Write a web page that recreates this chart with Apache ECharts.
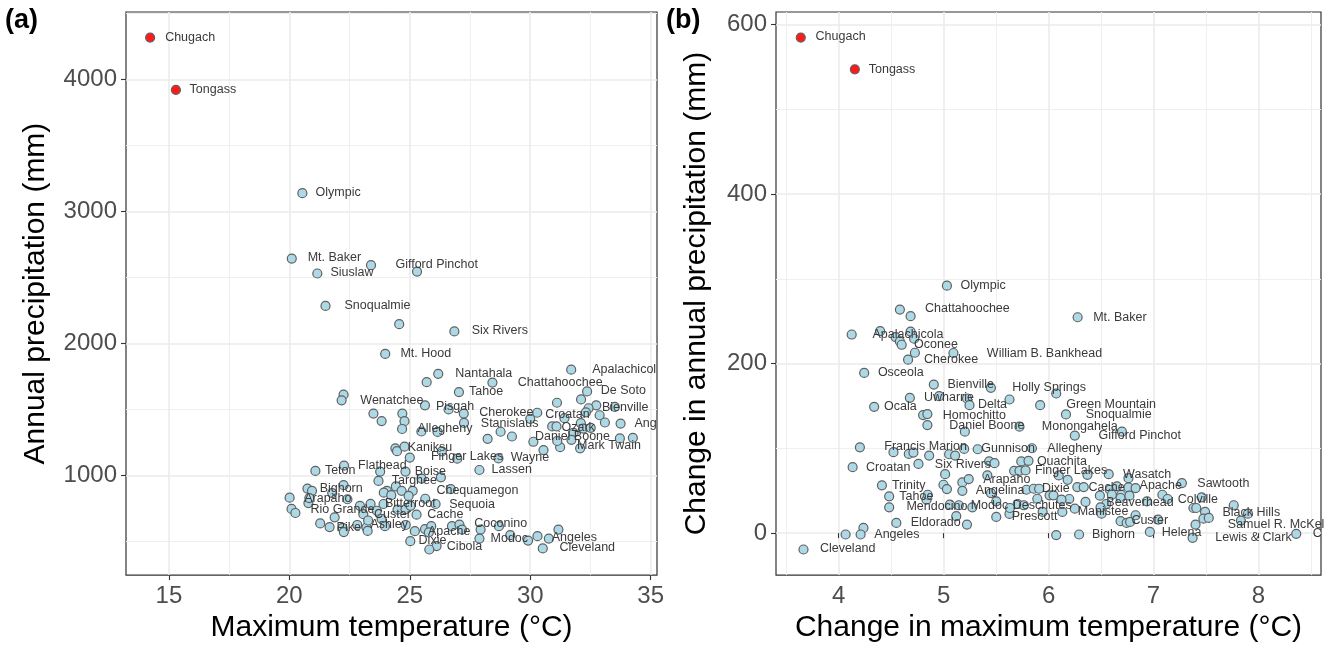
<!DOCTYPE html>
<html><head><meta charset="utf-8">
<script src="https://cdn.jsdelivr.net/npm/echarts@6/dist/echarts.min.js"></script>
<style>html,body{margin:0;padding:0;background:#fff}#c{width:1328px;height:648px}</style>
</head><body><div id="c"></div>
<script>
// ---------------- DATA ----------------
// Panel (a): maximum temperature (°C) vs annual precipitation (mm); '' = unlabelled forest
const aNames = ['Chugach','Tongass','Olympic','Mt. Baker','Gifford Pinchot','','Siuslaw','Snoqualmie','','Six Rivers',
'Mt. Hood','Nantahala','','Chattahoochee','Apalachicola','Tahoe','De Soto','','Wenatchee','',
'','Pisgah','','Cherokee','','Bienville','','','','',
'','','Stanislaus','Croatan','','Ozark','','','','',
'Angelina','','','','','Allegheny','','','','Daniel Boone',
'','','','Mark Twain','','','','','','Kaniksu',
'','','','Finger Lakes','','Wayne','Lassen','Flathead','Teton','',
'Boise','','','Targhee','','Bighorn','','','','',
'','Chequamegon','','','','','Arapaho','','','',
'','','Bitterroot','','Sequoia','','','','Rio Grande','',
'Custer','','','Cache','','Pike','','','','Ashley',
'','','','','','Apache','','','','',
'Coconino','','','','Dixie','Cibola','','Modoc','','',
'Angeles','','','Cleveland'];
const aTmax = [14.22,15.29,20.54,20.10,23.39,25.30,21.16,21.50,24.56,26.85,
23.98,26.18,25.70,28.43,31.70,27.04,32.36,22.25,22.17,32.11,
31.11,25.63,26.61,27.24,32.74,32.42,32.31,33.51,23.49,24.69,
23.83,24.78,27.25,30.29,30.00,30.91,31.09,31.42,32.88,33.10,
33.75,32.10,32.20,32.51,31.80,24.68,25.48,26.15,28.77,29.24,
28.23,30.13,30.55,31.24,31.12,31.71,32.07,33.72,34.26,24.40,
24.47,24.78,26.33,25.00,26.97,28.68,27.89,22.27,21.08,23.77,
24.82,25.49,26.29,23.70,22.25,20.75,20.94,26.70,24.05,24.42,
24.66,25.12,23.92,24.23,24.95,21.78,20.01,20.79,20.83,22.41,
25.64,22.93,23.37,23.91,26.07,24.49,24.82,25.03,20.09,20.25,
23.07,23.63,23.83,25.28,21.88,21.28,21.67,22.21,22.26,22.82,
23.20,23.25,23.27,23.97,24.83,25.21,25.63,25.89,25.79,26.75,
27.06,27.17,27.94,28.70,25.02,26.11,25.81,27.89,29.17,29.91,
30.30,30.77,31.17,30.52];
const aPrecip = [4319,3922,3139,2643,2593,2545,2530,2284,2146,2091,
1920,1769,1706,1703,1801,1631,1636,1611,1568,1575,
1550,1530,1499,1468,1530,1508,1477,1518,1468,1468,
1411,1410,1397,1474,1428,1370,1370,1433,1455,1400,
1392,1396,1354,1360,1321,1351,1332,1329,1330,1294,
1276,1254,1191,1213,1260,1269,1204,1279,1284,1204,
1183,1217,1181,1134,1126,1128,1040,1073,1033,1028,
1028,975,984,957,925,899,882,895,882,915,
882,882,868,849,843,865,830,789,827,818,
822,768,783,782,782,739,742,768,745,714,
705,731,669,701,681,635,607,601,569,623,
604,578,657,614,623,576,592,614,567,614,
626,588,588,614,500,463,437,520,546,505,
538,520,588,445];

// Panel (b): change in maximum temperature (°C) vs change in annual precipitation (mm)
const bNames = ['Chugach','Tongass','Olympic','Chattahoochee','','Mt. Baker','Apalachicola','','','',
'','Oconee','','','William B. Bankhead','Cherokee','Osceola','Bienville','Holly Springs','',
'Uwharrie','','','Delta','','Green Mountain','Ocala','Snoqualmie','','Homochitto',
'Daniel Boone','','Monongahela','Gifford Pinchot','','Francis Marion','','','','',
'Gunnison','','','','Allegheny','Croatan','Six Rivers','','','',
'','','Ouachita','','','Finger Lakes','','','','Wasatch',
'','Sawtooth','Trinity','','','','Arapaho','Angelina','','Dixie',
'','','','','Cache','','','','','',
'Apache','','Colville','','','','','Black Hills','Samuel R. McKelvie','',
'','','','','Lewis & Clark','Chippewa','Custer','','','',
'','Helena','Manistee','','','Beaverhead','','','','',
'','','','','Deschutes','','','Prescott','Modoc','',
'','','Mendocino','Tahoe','','','Eldorado','','','Angeles',
'','','Bighorn','Cleveland','','','',''];
const bDTmax = [3.64,4.155,5.032,4.584,4.686,6.277,4.125,4.396,4.686,4.543,
4.584,4.601,4.72,4.727,5.094,4.662,4.244,4.907,5.451,6.073,
4.679,4.958,5.223,5.247,5.628,5.92,4.339,6.166,4.805,4.846,
4.846,5.203,5.723,6.25,6.699,4.203,4.523,4.669,4.713,4.863,
5.196,5.053,5.11,5.325,5.842,4.134,4.761,5.015,5.434,5.485,
5.417,5.74,5.809,5.672,5.723,5.781,6.097,6.182,6.37,6.573,
6.761,7.27,4.413,4.999,5.032,5.179,5.24,5.179,5.451,5.79,
5.859,5.91,6.01,6.047,6.274,6.335,6.489,6.584,6.652,6.692,
6.761,6.829,7.084,7.134,7.458,7.38,7.407,7.491,7.475,7.526,
7.764,7.9,7.832,7.4,7.372,8.359,6.686,6.744,6.777,6.829,
7.043,6.965,6.131,6.505,6.25,6.352,6.55,6.686,6.77,6.937,
6.197,6.123,5.893,5.944,5.502,5.706,5.628,5.502,5.145,5.274,
5.06,5.121,4.482,4.482,4.838,4.849,4.55,5.223,4.237,4.21,
4.067,6.073,6.291,3.666,5.632,5.765,6.495,6.603];
const bDPrecip = [584.8,547.3,292.0,263.8,256.0,254.8,234.4,238.4,237.9,231.4,
226.2,222.3,229.4,212.9,212.6,204.7,189.1,175.3,171.5,164.8,
159.7,161.6,158.9,151.0,157.7,151.0,149.1,140.1,139.3,140.5,
127.5,119.8,125.7,115.1,119.8,101.3,95.5,93.5,95.1,91.6,
99.4,93.1,91.6,99.0,100.2,77.9,81.7,69.6,84.6,82.6,
68.1,84.6,85.3,73.5,73.5,74.0,68.1,62.9,68.8,69.6,
64.9,59.1,56.4,57.1,52.0,59.9,63.8,50.0,47.3,51.2,
52.4,52.4,44.6,44.6,54.4,54.4,44.2,51.2,55.2,45.3,
54.0,53.2,45.3,40.3,42.3,29.7,29.7,25.0,17.1,18.0,
32.9,23.0,14.8,10.1,-5.5,-0.8,14.1,12.1,13.3,21.1,
16.0,1.5,25.0,23.0,28.9,36.8,34.4,41.5,44.2,37.6,
40.3,39.5,40.6,25.0,37.6,34.4,22.7,19.1,32.9,30.5,
33.6,20.0,30.5,43.5,39.5,45.3,12.1,10.1,6.2,-1.6,
-1.6,-2.3,-1.6,-19.3,29.7,32.9,30.5,45.3];

const highlighted = ['Chugach','Tongass'];

const aXTicks = [15,20,25,30,35], aXMinor = [17.5,22.5,27.5,32.5];
const aYTicks = [1000,2000,3000,4000], aYMinor = [500,1500,2500,3500,4500];
const bXTicks = [4,5,6,7,8], bXMinor = [3.5,4.5,5.5,6.5,7.5,8.5];
const bYTicks = [0,200,400,600], bYMinor = [100,300,500];

// ---------------- LAYOUT / STYLE ----------------
// label nudges (px from point centre to label's left edge / vertical centre), like ggrepel placement
const nudgeA = {'Chugach':[15.6,0.6],'Tongass':[14.3,0.7],'Olympic':[13.8,0],'Mt. Baker':[16.5,0],'Gifford Pinchot':[25,0.3],
'Siuslaw':[13.8,0],'Snoqualmie':[19.6,0],'Six Rivers':[17.9,0],'Mt. Hood':[15.8,0],'Nantahala':[17.7,0.3],
'Chattahoochee':[26,0.6],'Apalachicola':[21.6,0.3],'Tahoe':[10.7,0],'De Soto':[14.3,0],'Wenatchee':[19.3,0.6],
'Pisgah':[11.6,1.6],'Bienville':[14,-0.6],'Cherokee':[16,0],'Stanislaus':[17.4,1],'Croatan':[8.5,2.5],
'Ozark':[9.9,1.3],'Angelina':[14.5,1],'Allegheny':[16,0.6],'Daniel Boone':[23.6,1],'Mark Twain':[17.5,-1],
'Kaniksu':[13,0],'Finger Lakes':[21.7,0],'Wayne':[12.9,0],'Lassen':[12.7,0],'Flathead':[14.6,1],
'Teton':[10.1,0],'Boise':[9.9,1],'Targhee':[13.9,0.6],'Bighorn':[12.8,0.3],'Chequamegon':[24.3,0.6],
'Arapaho':[15.2,1],'Bitterroot':[15,0.2],'Sequoia':[14.2,0.7],'Rio Grande':[19.5,0.9],'Custer':[11.3,0.5],
'Cache':[11.3,0],'Pike':[17,4.6],'Ashley':[13.7,-0.3],'Apache':[13.7,0.7],'Coconino':[15.5,0],
'Dixie':[8.9,0],'Cibola':[10.9,1],'Modoc':[11.7,1],'Angeles':[14.9,2.4],'Cleveland':[17.3,0]};
const nudgeB = {'Chugach':[15.4,0],'Tongass':[14.5,0.7],'Olympic':[14.3,0],'Chattahoochee':[25.7,0],'Mt. Baker':[16.1,0.7],
'Apalachicola':[21.4,1],'Oconee':[13,0.7],'William B. Bankhead':[34,0.7],'Cherokee':[16.5,0.7],'Osceola':[14.3,0.4],
'Bienville':[14.3,0.7],'Holly Springs':[22,0.7],'Uwharrie':[14.7,0.7],'Delta':[9,0],'Green Mountain':[26.8,0],
'Ocala':[10.4,0],'Snoqualmie':[20.3,0.7],'Homochitto':[16,2],'Daniel Boone':[22.5,0.6],'Monongahela':[23,0.7],
'Gifford Pinchot':[24.3,0.4],'Francis Marion':[25,0.3],'Gunnison':[17.8,0.3],'Allegheny':[16,0.7],'Croatan':[14,1],
'Six Rivers':[17,1],'Ouachita':[9,1.3],'Finger Lakes':[10,1],'Wasatch':[15,1.3],'Sawtooth':[16,1],
'Trinity':[10.6,1],'Arapaho':[15,0.7],'Angelina':[14,0],'Dixie':[16,-1],'Cache':[11.8,1],
'Apache':[11.7,-1],'Colville':[16,5],'Black Hills':[18,1],'Samuel R. McKelvie':[25,6],'Lewis & Clark':[23.3,0.7],
'Chippewa':[17,0],'Custer':[11.4,0],'Helena':[12.5,1],'Manistee':[16,0.3],'Beaverhead':[21.4,1],
'Deschutes':[17,5],'Prescott':[16,0.3],'Modoc':[12.5,1],'Mendocino':[17.8,0],'Tahoe':[10.7,0.7],
'Eldorado':[15,0.7],'Angeles':[14.3,0.6],'Bighorn':[13.4,0.6],'Cleveland':[17,0]};

const FONT = '"Liberation Sans", Arial, Helvetica, sans-serif';
const LABEL_SIZE = 12.5;
const SYM = 9;
const gridA = {left:126, right:671, top:12, bottom:71};
const gridB = {left:776, right:7, top:12, bottom:71};

function expand(v){ const mn = Math.min(...v), mx = Math.max(...v), r = mx - mn; return [mn - 0.05*r, mx + 0.05*r]; }
const aXR = expand(aTmax), aYR = expand(aPrecip), bXR = expand(bDTmax), bYR = expand(bDPrecip);

function majorAxis(gridIndex, range, ticks, name, nameGap, isX){
  return {
    gridIndex, type:'value', min:range[0], max:range[1], position: isX ? 'bottom' : 'left',
    axisLine:{show:false},
    axisTick:{show:true, length:5, customValues:ticks, lineStyle:{color:'#333333', width:1.1}},
    axisLabel:{show:true, customValues:ticks, color:'#4d4d4d', fontSize:24, margin:9, fontFamily:FONT,
      formatter: v => String(Math.round(v * 1000) / 1000)},
    splitLine:{show:true, lineStyle:{color:'#ebebeb', width:1.6}},
    name, nameLocation:'middle', nameGap,
    nameTextStyle:{fontSize:30, color:'#000', fontFamily:FONT}
  };
}
function minorAxis(gridIndex, range, ticks, isX){
  return {
    gridIndex, type:'value', min:range[0], max:range[1], position: isX ? 'top' : 'right',
    axisLine:{show:false}, axisTick:{show:false, customValues:ticks},
    axisLabel:{show:false, customValues:ticks},
    splitLine:{show:true, lineStyle:{color:'#efefef', width:1}}
  };
}

function buildData(names, xs, ys, nudges, truncW){
  return xs.map((x, i) => {
    const n = names[i];
    const item = {value:[x, ys[i]], name:n};
    if (highlighted.includes(n)) item.itemStyle = {color:'#ff1a1a', borderColor:'#606060'};
    if (n) {
      const off = nudges[n] || [12,0];
      item.label = {show:true, position:[SYM/2 + off[0], SYM/2 + off[1]], align:'left', verticalAlign:'middle'};
      if (truncW && truncW[i] != null) {
        item.label.width = truncW[i]; item.label.overflow = 'truncate'; item.label.ellipsis = '';
      }
    }
    return item;
  });
}

function scatterSeries(idx, data){
  return {
    type:'scatter', xAxisIndex:idx, yAxisIndex:idx, symbol:'circle', symbolSize:SYM,
    itemStyle:{color:'#add8e6', borderColor:'#606060', borderWidth:1.2, opacity:1},
    label:{show:false, align:'left', verticalAlign:'middle', formatter:'{b}',
      fontSize:LABEL_SIZE, color:'#3a3a3a', fontFamily:FONT, textBorderWidth:0, textShadowBlur:0},
    labelLayout:{hideOverlap:false},
    emphasis:{disabled:true}, silent:true,
    data
  };
}

const chart = echarts.init(document.getElementById('c'), null, {renderer:'canvas'});
function makeOption(truncA, truncB){
  return {
    animation:false, backgroundColor:'#ffffff',
    grid:[
      Object.assign({show:true, borderColor:'#333333', borderWidth:1.2, backgroundColor:'transparent', containLabel:false}, gridA),
      Object.assign({show:true, borderColor:'#333333', borderWidth:1.2, backgroundColor:'transparent', containLabel:false}, gridB)
    ],
    xAxis:[
      majorAxis(0, aXR, aXTicks, 'Maximum temperature (°C)', 36, true),
      minorAxis(0, aXR, aXMinor, true),
      majorAxis(1, bXR, bXTicks, 'Change in maximum temperature (°C)', 36, true),
      minorAxis(1, bXR, bXMinor, true)
    ],
    yAxis:[
      majorAxis(0, aYR, aYTicks, 'Annual precipitation (mm)', 75, false),
      minorAxis(0, aYR, aYMinor, false),
      majorAxis(1, bYR, bYTicks, 'Change in annual precipitation (mm)', 64, false),
      minorAxis(1, bYR, bYMinor, false)
    ],
    graphic:[
      {type:'text', left:5, top:7, style:{text:'(a)', font:'bold 27px ' + FONT, fill:'#000'}},
      {type:'text', left:666, top:7, style:{text:'(b)', font:'bold 27px ' + FONT, fill:'#000'}}
    ],
    series:[
      scatterSeries(0, buildData(aNames, aTmax, aPrecip, nudgeA, truncA)),
      scatterSeries(2, buildData(bNames, bDTmax, bDPrecip, nudgeB, truncB))
    ]
  };
}
chart.setOption(makeOption(null, null));

// clip labels at the panel's right edge (as the panel clipping does in the original)
const ctx = document.createElement('canvas').getContext('2d');
ctx.font = LABEL_SIZE + 'px ' + FONT;
function truncWidths(seriesIndex, names, xs, ys, nudges, rightPx){
  return xs.map((x, i) => {
    const n = names[i]; if (!n) return null;
    const p = chart.convertToPixel({seriesIndex}, [x, ys[i]]);
    const off = nudges[n] || [12,0];
    const avail = rightPx - (p[0] + off[0]) + 5;
    return ctx.measureText(n).width > avail ? Math.max(avail, 12) : null;
  });
}
const truncA = truncWidths(0, aNames, aTmax, aPrecip, nudgeA, 1328 - gridA.right);
const truncB = truncWidths(1, bNames, bDTmax, bDPrecip, nudgeB, 1328 - gridB.right);
chart.setOption(makeOption(truncA, truncB), true);
</script></body></html>
